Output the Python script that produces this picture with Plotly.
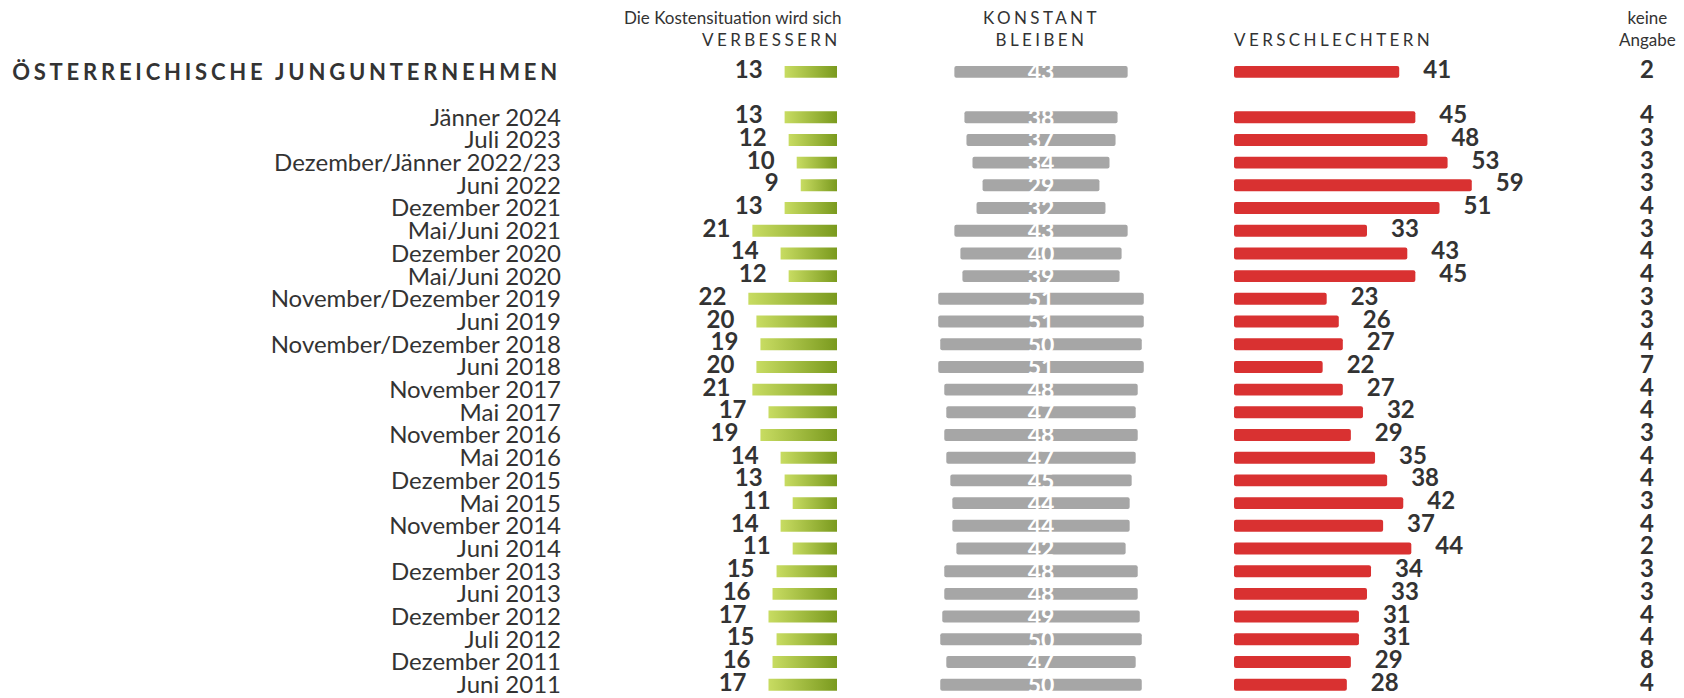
import plotly.graph_objects as go

# ---------------- data ----------------
total_label = "ÖSTERREICHISCHE JUNGUNTERNEHMEN"
total_better = 13
total_same = 43
total_worse = 41
total_none = 2

periods = [
    "Jänner 2024", "Juli 2023", "Dezember/Jänner 2022/23", "Juni 2022",
    "Dezember 2021", "Mai/Juni 2021", "Dezember 2020", "Mai/Juni 2020",
    "November/Dezember 2019", "Juni 2019", "November/Dezember 2018", "Juni 2018",
    "November 2017", "Mai 2017", "November 2016", "Mai 2016",
    "Dezember 2015", "Mai 2015", "November 2014", "Juni 2014",
    "Dezember 2013", "Juni 2013", "Dezember 2012", "Juli 2012",
    "Dezember 2011", "Juni 2011",
]
better = [13, 12, 10, 9, 13, 21, 14, 12, 22, 20, 19, 20, 21, 17, 19, 14, 13, 11, 14, 11, 15, 16, 17, 15, 16, 17]
same = [38, 37, 34, 29, 32, 43, 40, 39, 51, 51, 50, 51, 48, 47, 48, 47, 45, 44, 44, 42, 48, 48, 49, 50, 47, 50]
worse = [45, 48, 53, 59, 51, 33, 43, 45, 23, 26, 27, 22, 27, 32, 29, 35, 38, 42, 37, 44, 34, 33, 31, 31, 29, 28]
no_answer = [4, 3, 3, 3, 4, 3, 4, 4, 3, 3, 4, 7, 4, 4, 3, 4, 4, 3, 4, 2, 3, 3, 4, 4, 8, 4]

# ---------------- layout constants ----------------
OFF = 8                 # page body margin of the html page
W, H = 1684 - OFF, 698 - OFF
LABEL_END = 562         # window px where the row labels end
L = LABEL_END - OFF     # left margin of the figure
PX = 4.03               # pixels per percentage point
ROW_PX = 22.93          # row pitch in pixels
FIRST_PX = 72.5 - OFF   # centre of the first row (figure px)
FONT = "Lato"
TXT = "#333333"
GREEN_L, GREEN_R = "#c8dc62", "#7a9a1e"
GREY = "#a6a6a6"
RED = "#d93131"


def xu(p):
    """window pixel -> x data units"""
    return (p - OFF - L) / PX


def ypaper(p):
    """window pixel -> paper y"""
    return 1 - (p - OFF) / H


GREEN_END = xu(837)
GREY_MID = xu(1041)
RED_START = xu(1234)
NONE_X = xu(1647)
GAP_G = 22 / PX
GAP_R = 24 / PX
HALF = 0.263
BAR_W = 2 * HALF
GREY_TXT_DY = 0.12

pos = [0] + [i + 2 for i in range(len(periods))]
b_all = [total_better] + better
s_all = [total_same] + same
w_all = [total_worse] + worse
n_all = [total_none] + no_answer

fig = go.Figure()

# green bars with gradient fill
for p, v in zip(pos, b_all):
    x0, x1 = GREEN_END - v, GREEN_END
    fig.add_trace(go.Scatter(
        x=[x0, x1, x1, x0, x0],
        y=[p - HALF, p - HALF, p + HALF, p + HALF, p - HALF],
        mode="none", fill="toself",
        fillgradient=dict(type="horizontal", colorscale=[[0, GREEN_L], [1, GREEN_R]]),
        hoverinfo="skip", showlegend=False,
    ))

# grey bars (centred)
fig.add_trace(go.Bar(
    orientation="h", y=pos, x=s_all, base=[GREY_MID - v / 2 for v in s_all],
    width=BAR_W, marker=dict(color=GREY, cornerradius=2, line=dict(width=0)),
    showlegend=False, hoverinfo="skip",
))

# red bars
fig.add_trace(go.Bar(
    orientation="h", y=pos, x=w_all, base=[RED_START] * len(w_all),
    width=BAR_W, marker=dict(color=RED, cornerradius=2, line=dict(width=0)),
    showlegend=False, hoverinfo="skip",
))

lblfont = dict(family=FONT, size=24, color=TXT, weight="bold")

fig.add_trace(go.Scatter(
    x=[GREEN_END - v - GAP_G for v in b_all], y=pos, mode="text",
    text=[str(v) for v in b_all], textposition="middle left",
    textfont=lblfont, cliponaxis=False, showlegend=False, hoverinfo="skip",
))
fig.add_trace(go.Scatter(
    x=[GREY_MID] * len(s_all), y=[p + GREY_TXT_DY for p in pos], mode="text",
    text=[str(v) for v in s_all], textposition="middle center",
    textfont=dict(family=FONT, size=23, color="white", weight="bold"),
    cliponaxis=False, showlegend=False, hoverinfo="skip",
))
fig.add_trace(go.Scatter(
    x=[RED_START + v + GAP_R for v in w_all], y=pos, mode="text",
    text=[str(v) for v in w_all], textposition="middle right",
    textfont=lblfont, cliponaxis=False, showlegend=False, hoverinfo="skip",
))
fig.add_trace(go.Scatter(
    x=[NONE_X] * len(n_all), y=pos, mode="text",
    text=[str(v) for v in n_all], textposition="middle center",
    textfont=lblfont, cliponaxis=False, showlegend=False, hoverinfo="skip",
))

ticktext = ["<b><span style='font-size:22px;letter-spacing:3.8px'>" + total_label + "</span></b>"] + periods

SP = "letter-spacing:3.4px"
annotations = [
    dict(text="Die Kostensituation wird sich",
         x=xu(843), y=ypaper(5), xanchor="right", yanchor="top", align="right",
         font=dict(family="Liberation Sans Narrow, Lato", size=17, color=TXT)),
    dict(text="<span style='" + SP + "'>VERBESSERN</span>",
         x=xu(843), y=ypaper(27), xanchor="right", yanchor="top", align="right",
         font=dict(family=FONT, size=17, color=TXT)),
    dict(text="<span style='" + SP + "'>KONSTANT</span><br><span style='" + SP + "'>BLEIBEN</span>",
         x=xu(1041), y=ypaper(5), xanchor="center", yanchor="top", align="center",
         font=dict(family=FONT, size=17, color=TXT)),
    dict(text="<span style='" + SP + "'>VERSCHLECHTERN</span>",
         x=xu(1232), y=ypaper(27), xanchor="left", yanchor="top", align="left",
         font=dict(family=FONT, size=17, color=TXT)),
    dict(text="keine<br>Angabe",
         x=xu(1647), y=ypaper(5), xanchor="center", yanchor="top", align="center",
         font=dict(family=FONT, size=17, color=TXT)),
]
for a in annotations:
    a.update(xref="x", yref="paper", showarrow=False)

fig.update_layout(
    width=W, height=H,
    margin=dict(l=L, r=0, t=0, b=0),
    paper_bgcolor="white", plot_bgcolor="white",
    barmode="overlay",
    showlegend=False,
    xaxis=dict(range=[0, (W - L) / PX], visible=False, fixedrange=True),
    yaxis=dict(
        range=[(H - FIRST_PX) / ROW_PX, -FIRST_PX / ROW_PX],
        tickvals=pos, ticktext=ticktext, ticks="",
        tickfont=dict(family=FONT, size=24, color=TXT),
        ticklabeloverflow="allow",
        showgrid=False, zeroline=False, showline=False, fixedrange=True,
    ),
    annotations=annotations,
    font=dict(family=FONT, color=TXT),
)

fig.write_html("out.html")
